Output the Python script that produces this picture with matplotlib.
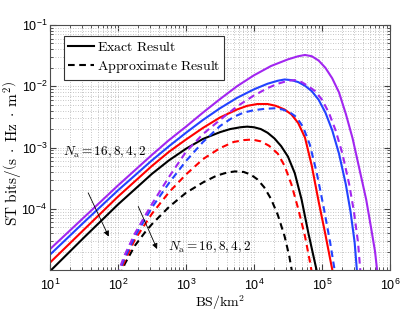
import matplotlib
matplotlib.use("Agg")
import matplotlib.pyplot as plt
from matplotlib.lines import Line2D

plt.rcParams['font.family'] = ['Liberation Sans', 'DejaVu Sans']
plt.rcParams['mathtext.fontset'] = 'custom'
plt.rcParams['mathtext.rm'] = 'Liberation Sans'
plt.rcParams['mathtext.it'] = 'Liberation Sans:italic'
plt.rcParams['mathtext.bf'] = 'Liberation Sans:bold'

# ---- data (BS density in BS/km^2, ST in bits/(s Hz m^2)) ----
exact_purple_x = [10, 31.6, 100, 316, 562, 1000, 1778, 3162, 5623, 1.0e4, 1.778e4, 3.162e4, 4.467e4,
                  5.623e4, 7.079e4, 8.913e4, 1.122e5, 1.413e5, 1.778e5, 2.239e5, 2.818e5, 3.548e5,
                  4.467e5, 5.248e5, 6.026e5, 6.607e5]
exact_purple_y = [2.19e-5, 7.24e-5, 2.40e-4, 7.59e-4, 1.32e-3, 2.19e-3, 3.72e-3, 6.17e-3, 1.0e-2, 1.51e-2,
                  2.14e-2, 2.75e-2, 3.09e-2, 3.24e-2, 3.09e-2, 2.63e-2, 2.0e-2, 1.35e-2, 7.94e-3, 3.55e-3,
                  1.41e-3, 4.47e-4, 1.41e-4, 5.01e-5, 2.0e-5, 7.94e-6]

exact_blue_x = [10, 31.6, 100, 316, 562, 1000, 1778, 3162, 5623, 1.0e4, 1.585e4, 2.239e4, 2.818e4,
                3.548e4, 4.467e4, 5.623e4, 7.079e4, 8.913e4, 1.122e5, 1.413e5, 1.778e5, 2.239e5,
                2.630e5, 3.020e5, 3.311e5]
exact_blue_y = [1.78e-5, 6.03e-5, 2.0e-4, 6.17e-4, 1.05e-3, 1.74e-3, 2.82e-3, 4.37e-3, 6.46e-3, 8.91e-3,
                1.10e-2, 1.23e-2, 1.29e-2, 1.26e-2, 1.17e-2, 1.02e-2, 8.32e-3, 6.03e-3, 3.72e-3, 1.91e-3,
                7.94e-4, 2.51e-4, 8.91e-5, 2.82e-5, 7.94e-6]

exact_red_x = [10, 31.6, 100, 316, 562, 1000, 1778, 3162, 5623, 7943, 1.122e4, 1.585e4, 2.089e4,
               2.818e4, 3.548e4, 4.467e4, 5.623e4, 7.079e4, 8.913e4, 1.122e5, 1.318e5, 1.479e5]
exact_red_y = [1.32e-5, 4.57e-5, 1.58e-4, 5.01e-4, 8.51e-4, 1.35e-3, 2.09e-3, 3.09e-3, 4.17e-3, 4.79e-3,
               5.13e-3, 5.13e-3, 4.79e-3, 4.17e-3, 3.47e-3, 2.51e-3, 1.45e-3, 5.01e-4, 1.32e-4, 3.80e-5,
               1.51e-5, 7.94e-6]

exact_black_x = [10, 31.6, 100, 316, 562, 1000, 1778, 3162, 4467, 6310, 7943, 1.0e4, 1.259e4, 1.585e4,
                 1.995e4, 2.512e4, 3.162e4, 3.981e4, 5.012e4, 6.310e4, 7.586e4, 8.710e4]
exact_black_y = [9.55e-6, 3.39e-5, 1.175e-4, 3.72e-4, 6.17e-4, 9.55e-4, 1.38e-3, 1.78e-3, 2.0e-3, 2.14e-3,
                 2.19e-3, 2.14e-3, 2.0e-3, 1.74e-3, 1.41e-3, 1.05e-3, 7.08e-4, 3.80e-4, 1.41e-4, 3.98e-5,
                 1.58e-5, 7.94e-6]

approx_purple_x = [95.5, 125.9, 177.8, 316.2, 562.3, 1000, 1778, 3162, 5623, 1.0e4, 1.585e4, 2.239e4,
                   3.162e4, 3.981e4, 5.012e4, 6.310e4, 7.943e4, 1.0e5, 1.259e5, 1.585e5, 1.995e5,
                   2.512e5, 2.951e5, 3.388e5, 3.715e5]
approx_purple_y = [7.94e-6, 1.78e-5, 3.98e-5, 1.20e-4, 3.31e-4, 8.51e-4, 1.66e-3, 2.82e-3, 4.68e-3,
                   7.08e-3, 9.33e-3, 1.10e-2, 1.23e-2, 1.26e-2, 1.17e-2, 1.0e-2, 8.32e-3, 6.03e-3,
                   3.72e-3, 1.91e-3, 7.94e-4, 2.51e-4, 8.91e-5, 2.82e-5, 7.94e-6]

approx_blue_x = [97.7, 125.9, 177.8, 316.2, 562.3, 1000, 1778, 3162, 5012, 7079, 1.0e4, 1.413e4,
                 1.995e4, 2.630e4, 3.311e4, 4.169e4, 5.248e4, 6.607e4, 8.318e4, 1.047e5, 1.318e5, 1.585e5]
approx_blue_y = [7.94e-6, 1.58e-5, 3.55e-5, 1.05e-4, 2.63e-4, 6.03e-4, 1.23e-3, 2.24e-3, 3.16e-3,
                 3.72e-3, 4.07e-3, 4.27e-3, 4.37e-3, 4.17e-3, 3.80e-3, 3.16e-3, 2.19e-3, 1.12e-3,
                 3.98e-4, 1.12e-4, 2.82e-5, 7.94e-6]

approx_red_x = [100, 125.9, 177.8, 316.2, 562.3, 1000, 1778, 3162, 5012, 7079, 9333, 1.259e4, 1.660e4,
                2.239e4, 2.818e4, 3.548e4, 4.467e4, 5.623e4, 6.607e4, 7.244e4]
approx_red_y = [7.94e-6, 1.41e-5, 3.16e-5, 8.32e-5, 1.86e-4, 3.63e-4, 6.46e-4, 9.77e-4, 1.23e-3, 1.32e-3,
                1.35e-3, 1.26e-3, 1.07e-3, 7.94e-4, 5.01e-4, 2.51e-4, 1.0e-4, 3.55e-5, 1.41e-5, 7.94e-6]

approx_black_x = [107.2, 125.9, 177.8, 251.2, 316.2, 562.3, 1000, 1778, 2818, 3981, 5248, 7079, 8913,
                  1.122e4, 1.413e4, 1.778e4, 2.239e4, 2.818e4, 3.311e4, 3.715e4]
approx_black_y = [7.94e-6, 1.26e-5, 2.51e-5, 4.17e-5, 5.62e-5, 1.07e-4, 1.82e-4, 2.69e-4, 3.47e-4,
                  3.89e-4, 4.07e-4, 3.98e-4, 3.63e-4, 3.02e-4, 2.24e-4, 1.45e-4, 7.94e-5, 3.55e-5,
                  1.66e-5, 7.94e-6]

x_ticks = [1e1, 1e2, 1e3, 1e4, 1e5, 1e6]
x_tick_labels = [r'$10^{1}$', r'$10^{2}$', r'$10^{3}$', r'$10^{4}$', r'$10^{5}$', r'$10^{6}$']
y_ticks = [1e-4, 1e-3, 1e-2, 1e-1]
y_tick_labels = [r'$10^{-4}$', r'$10^{-3}$', r'$10^{-2}$', r'$10^{-1}$']
legend_labels = [r'$\mathrm{Exact\ Result}$', r'$\mathrm{Approximate\ Result}$']
na_label = r'$N_{\mathrm{a}}=16,8,4,2$'
x_label = r'$\mathrm{BS/km}^2$'
y_label = r'$\mathrm{ST\ bits}/\left(\mathrm{s}\;\cdot\;\mathrm{Hz}\;\cdot\;\mathrm{m}^2\right)$'

PURPLE = '#A226F0'
BLUE = '#2342FF'
RED = '#FF0000'
BLACK = '#000000'
DASH = (0, (3.2, 2.2))

fig = plt.figure(figsize=(4.15, 3.15), dpi=100)
ax = fig.add_axes([50 / 415, 1 - 270 / 315, 340 / 415, 245 / 315])
ax.set_xscale('log')
ax.set_yscale('log')

lw = 1.5
for xs, ys, c in [(exact_black_x, exact_black_y, BLACK), (exact_red_x, exact_red_y, RED),
                  (exact_blue_x, exact_blue_y, BLUE), (exact_purple_x, exact_purple_y, PURPLE)]:
    ax.plot(xs, ys, color=c, lw=lw, solid_joinstyle='round')
for xs, ys, c in [(approx_black_x, approx_black_y, BLACK), (approx_red_x, approx_red_y, RED),
                  (approx_blue_x, approx_blue_y, BLUE), (approx_purple_x, approx_purple_y, PURPLE)]:
    ax.plot(xs, ys, color=c, lw=lw, ls=DASH)

ax.set_xlim(1e1, 1e6)
ax.set_ylim(1.0e-5, 1e-1)
ax.set_xticks(x_ticks)
ax.set_xticklabels(x_tick_labels)
ax.set_yticks(y_ticks)
ax.set_yticklabels(y_tick_labels)
ax.tick_params(which='both', direction='in', top=True, right=True, labelsize=9, colors='0.25',
               labelcolor='k')
ax.tick_params(which='major', length=4)
ax.tick_params(which='minor', length=2)
ax.tick_params(axis='x', which='major', pad=5.5)
ax.tick_params(axis='y', which='major', pad=2)
ax.grid(True, which='both', ls=(0, (1, 2)), color='0.7', lw=0.6)
for s in ax.spines.values():
    s.set_color('0.3')
    s.set_linewidth(0.8)

ax.set_xlabel(x_label, math_fontfamily='cm', fontsize=10)
ax.xaxis.set_label_coords(0.5, -0.095)
ax.set_ylabel(y_label, math_fontfamily='cm', fontsize=11)
ax.yaxis.set_label_coords(-0.08, 0.476)

handles = [Line2D([], [], color='k', lw=lw), Line2D([], [], color='k', lw=lw, ls=DASH)]
leg = ax.legend(handles, legend_labels,
                loc='upper left', bbox_to_anchor=(0.041, 0.955), borderaxespad=0,
                fancybox=False, edgecolor='0.2', framealpha=1, handlelength=1.9,
                handletextpad=0.15, borderpad=0.3, labelspacing=0.3, prop={'size': 10})
leg.get_frame().set_linewidth(0.8)
for t in leg.get_texts():
    t.set_math_fontfamily('cm')

ax.text(15.5, 8.3e-4, na_label, math_fontfamily='cm', fontsize=9.5, va='center')
ax.text(550, 2.3e-5, na_label, math_fontfamily='cm', fontsize=9.5, va='center')
ax.annotate('', xy=(76, 3.2e-5), xytext=(35, 2.0e-4),
            arrowprops=dict(arrowstyle='-|>', color='k', lw=0.6, mutation_scale=8))
ax.annotate('', xy=(390, 2.0e-5), xytext=(191, 1.2e-4),
            arrowprops=dict(arrowstyle='-|>', color='k', lw=0.6, mutation_scale=8))

fig.savefig('out.png', dpi=100)
